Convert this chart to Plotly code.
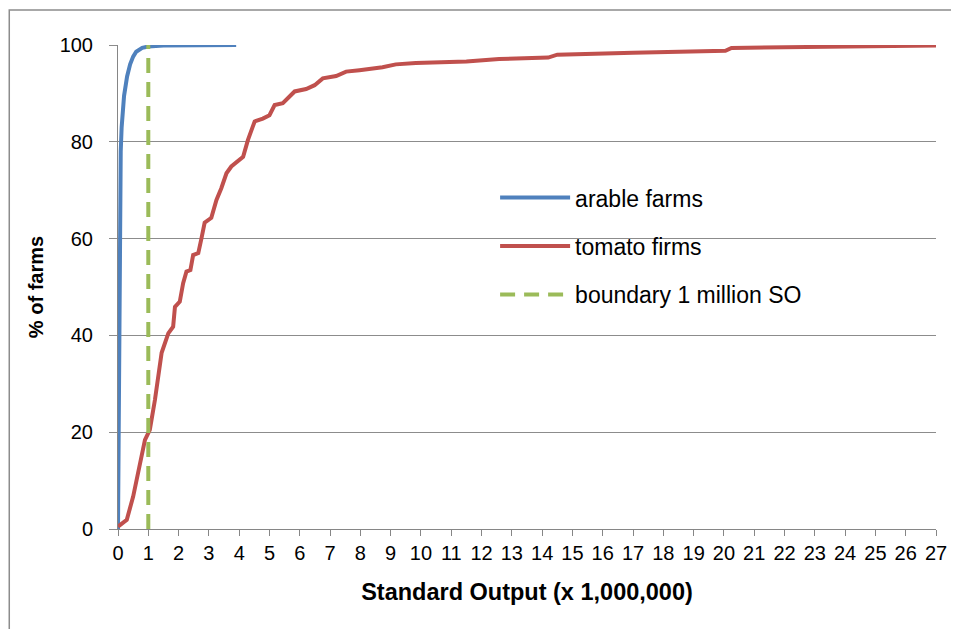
import plotly.graph_objects as go

# Arable farms cumulative distribution
arable_x = [0, 0.01, 0.02, 0.03, 0.05, 0.07, 0.09, 0.12, 0.15, 0.2, 0.3, 0.4, 0.5, 0.6, 0.8, 1.0, 1.5, 2.0, 3.0, 3.9]
arable_y = [0, 10, 22, 33, 50, 64, 78, 83, 86, 89.5, 93.5, 96, 97.6, 98.6, 99.4, 99.7, 99.9, 99.95, 100, 100]

# Tomato firms cumulative distribution
tomato_x = [0, 0.07, 0.29, 0.5, 0.72, 0.89, 1.05, 1.22, 1.44, 1.66, 1.82, 1.88, 2.04, 2.15, 2.26, 2.39,
            2.48, 2.65, 2.76, 2.86, 3.08, 3.25, 3.41, 3.58, 3.74, 4.13, 4.29, 4.51, 4.78, 5.0, 5.17,
            5.44, 5.83, 6.21, 6.49, 6.76, 7.2, 7.53, 7.97, 8.73, 9.17, 9.83, 11.5, 12.58, 14.2, 14.5,
            17.0, 20.05, 20.25, 24.0, 27.0]
tomato_y = [0.5, 0.8, 1.9, 6.7, 12.9, 18.4, 20.5, 26.7, 36.4, 40.4, 41.8, 45.9, 47, 50.8, 53.2, 53.5,
            56.6, 57, 60.2, 63.3, 64.3, 68, 70.4, 73.5, 74.9, 76.9, 80.4, 84.2, 84.8, 85.5, 87.6,
            88, 90.4, 90.9, 91.7, 93.1, 93.6, 94.5, 94.8, 95.4, 96.0, 96.3, 96.6, 97.1, 97.4, 98.0,
            98.4, 98.8, 99.4, 99.6, 99.9]

# Boundary line at 1 million SO
boundary_x = [1, 1]
boundary_y = [0, 100]

x_ticks = list(range(0, 28))
y_ticks = [0, 20, 40, 60, 80, 100]

FONT = "Liberation Sans, Arial, sans-serif"

fig = go.Figure()
fig.add_trace(go.Scatter(x=arable_x, y=arable_y, mode="lines", name="arable farms",
                         line=dict(color="#4F81BD", width=4), legendgroup="a"))
fig.add_trace(go.Scatter(x=tomato_x, y=tomato_y, mode="lines", name="tomato firms",
                         line=dict(color="#C0504D", width=4), legendgroup="b"))
fig.add_trace(go.Scatter(x=boundary_x, y=boundary_y, mode="lines", name="boundary 1 million SO",
                         line=dict(color="#9BBB59", width=4, dash="15px,9px"), legendgroup="c"))

# page body has an 8px margin, so the figure is 8px smaller and margins shifted
fig.update_layout(
    width=951, height=621,
    margin=dict(l=110, r=21, t=37, b=100),
    paper_bgcolor="white", plot_bgcolor="white",
    font=dict(family=FONT, size=20, color="black"),
    showlegend=True,
    legend=dict(x=0.461, y=0.729, xanchor="left", yanchor="top",
                font=dict(size=23, family=FONT), bgcolor="rgba(0,0,0,0)",
                tracegroupgap=15.5, itemwidth=70),
    shapes=[dict(type="rect", xref="paper", yref="paper",
                 x0=(9 - 118) / 820, x1=1.2, y0=-0.4, y1=(529 - 10) / 484,
                 line=dict(color="#8c8c8c", width=1.5), layer="below")],
)
fig.update_xaxes(
    range=[0, 27], tickvals=x_ticks, ticktext=[str(v) for v in x_ticks],
    showgrid=False, zeroline=False, showline=True, linecolor="#868686", linewidth=1,
    ticks="outside", ticklen=6, tickcolor="#868686",
    title=dict(text="<b>Standard Output (x 1,000,000)</b>", font=dict(size=23.5), standoff=20),
    tickfont=dict(size=20),
)
fig.update_yaxes(
    range=[0, 100], tickvals=y_ticks,
    showgrid=True, gridcolor="#8c8c8c", gridwidth=1, zeroline=False,
    showline=True, linecolor="#868686", linewidth=1,
    ticks="outside", ticklen=8, tickcolor="#8c8c8c", ticklabelstandoff=12,
    title=dict(text="<b>% of farms</b>", font=dict(size=20), standoff=10),
    tickfont=dict(size=20),
)

fig.write_html("out.html")
